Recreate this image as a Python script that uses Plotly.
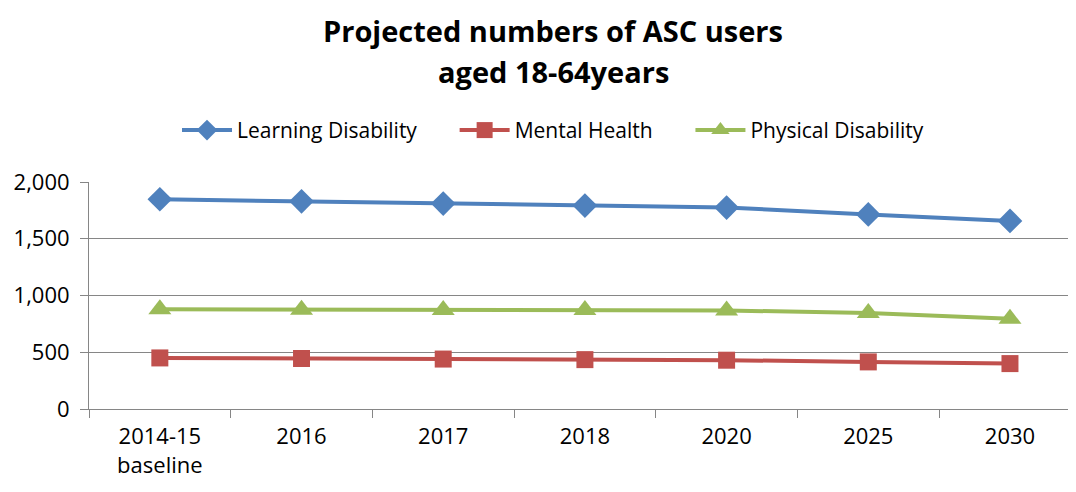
import plotly.graph_objects as go

years = ["2014-15<br>baseline", "2016", "2017", "2018", "2020", "2025", "2030"]
learning_disability = [1848, 1830, 1810, 1792, 1775, 1714, 1657]
mental_health = [450, 445, 440, 435, 430, 415, 400]
physical_disability = [878, 875, 873, 872, 868, 846, 795]

font = "Open Sans"

fig = go.Figure()
fig.add_trace(go.Scatter(x=years, y=learning_disability, name="Learning Disability      ",
                         mode="lines+markers",
                         line=dict(color="#4F81BD", width=4),
                         marker=dict(symbol="diamond", size=19, color="#4F81BD")))
fig.add_trace(go.Scatter(x=years, y=mental_health, name="Mental Health      ",
                         mode="lines+markers",
                         line=dict(color="#C0504D", width=4),
                         marker=dict(symbol="square", size=17, color="#C0504D")))
fig.add_trace(go.Scatter(x=years, y=physical_disability, name="Physical Disability",
                         mode="lines+markers",
                         line=dict(color="#9BBB59", width=4),
                         marker=dict(symbol="triangle-up", size=20, color="#9BBB59")))

# page has an 8px body margin; plot area spans page y 181.7..409.3
def py(pix):
    return (409.3 - pix) / 227.6

fig.update_layout(
    width=1068, height=484,
    margin=dict(l=81, r=0, t=174, b=83, autoexpand=False),
    paper_bgcolor="white", plot_bgcolor="white",
    font=dict(family=font, size=21, color="black"),
    showlegend=True,
    legend=dict(orientation="h", x=(553 - 89) / 987, xanchor="center", y=py(130),
                yanchor="middle", font=dict(size=21), traceorder="normal",
                itemwidth=50),
    xaxis=dict(type="category", showgrid=False, showline=True, linecolor="#868686",
               linewidth=1, ticks="outside", tickson="boundaries", ticklen=8,
               tickcolor="#868686", range=[-0.5, 6.466], automargin=False,
               ticklabelstandoff=8, tickfont=dict(size=22)),
    yaxis=dict(range=[0, 2000], dtick=500, tickformat=",", showgrid=True,
               gridcolor="#868686", gridwidth=1, showline=True, linecolor="#868686",
               ticks="outside", ticklen=8, tickcolor="#868686", zeroline=False,
               ticklabelstandoff=6, automargin=False, tickfont=dict(size=22)),
    annotations=[
        dict(text="<b>Projected numbers of ASC users</b>", x=(553 - 89) / 987, y=py(30),
             xref="paper", yref="paper", yanchor="middle", showarrow=False,
             font=dict(size=29)),
        dict(text="<b>aged 18-64years</b>", x=(553 - 89) / 987, y=py(71),
             xref="paper", yref="paper", yanchor="middle", showarrow=False,
             font=dict(size=29)),
    ],
)

fig.write_html("out.html")
